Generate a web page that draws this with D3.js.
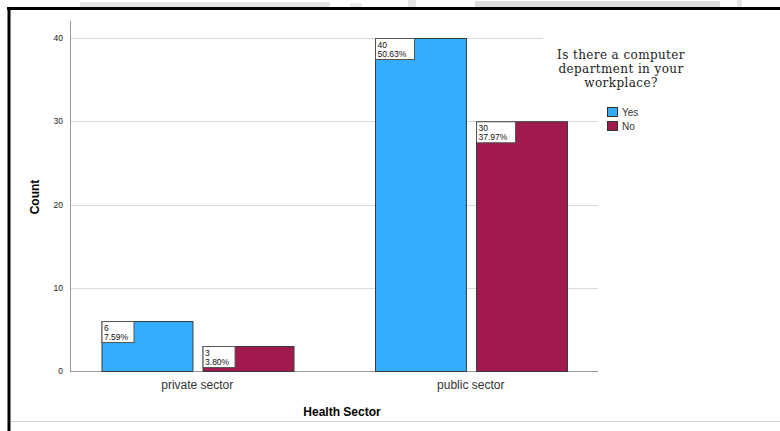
<!DOCTYPE html>
<html>
<head>
<meta charset="UTF-8" />
<title>Health Sector chart</title>
<script src="https://cdn.jsdelivr.net/npm/d3@7"></script>
<style>
    body { margin: 0; background: #fff; }
    svg { display: block; }
</style>
</head>
<body>
<div id="chart"></div>
<script type="text/javascript">
    /**
     * data
     */
    var categories = ["private sector", "public sector"];
    var seriesNames = ["Yes", "No"];
    var yesCounts = [6, 40];
    var noCounts = [3, 30];
    var yesPercents = ["7.59%", "50.63%"];
    var noPercents = ["3.80%", "37.97%"];
    var yTicks = [0, 10, 20, 30, 40];
    var colors = ["#33adfd", "#a01a4e"];

    var W = 780, H = 431;
    var svg = d3.select("#chart").append("svg").attr("width", W).attr("height", H);

    // scanned page remnants at the top
    [[80, 250, 5, "#e4e4e4"], [350, 12, 4, "#ececec"], [475, 245, 6, "#dedede"]].forEach(function (r) {
        svg.append("rect").attr("x", r[0]).attr("y", 7 - r[2]).attr("width", r[1]).attr("height", r[2]).attr("fill", r[3]);
    });
    [[408, 8], [737, 5]].forEach(function (r) {
        svg.append("rect").attr("x", r[0]).attr("y", 0).attr("width", r[1]).attr("height", 7).attr("fill", "#e6e6e6");
    });

    // frame
    svg.append("line").attr("x1", 7).attr("x2", W).attr("y1", 8.5).attr("y2", 8.5).attr("stroke", "#000").attr("stroke-width", 3);
    svg.append("line").attr("x1", 9).attr("x2", 9).attr("y1", 7).attr("y2", H).attr("stroke", "#000").attr("stroke-width", 3);
    svg.append("line").attr("x1", 11).attr("x2", W).attr("y1", 421.5).attr("y2", 421.5).attr("stroke", "#d0d0d0").attr("stroke-width", 1);

    var plotL = 70, plotR = 598;
    var y = d3.scaleLinear().domain([0, 40]).range([371, 38]);
    var x0 = d3.scaleBand().domain(categories).range([60.5, 607.5]);
    var x1 = d3.scaleBand().domain(seriesNames).range([41, 233]).paddingInner(0.1);

    // gridlines
    svg.append("g").selectAll("line").data(yTicks.filter(function (d) { return d > 0; })).enter().append("line")
        .attr("x1", plotL).attr("x2", plotR)
        .attr("y1", function (d) { return Math.round(y(d)) + 0.5; })
        .attr("y2", function (d) { return Math.round(y(d)) + 0.5; })
        .attr("stroke", "#d9d9d9").attr("stroke-width", 1);

    // y axis
    var yAxis = d3.axisLeft(y).tickValues(yTicks).tickSize(0).tickPadding(7);
    var gy = svg.append("g").attr("transform", "translate(" + plotL + ",0)").call(yAxis);
    gy.select(".domain").remove();
    gy.selectAll("text").attr("font-family", "Liberation Sans, Arial, sans-serif").attr("font-size", 8.5).attr("fill", "#222");
    svg.append("line").attr("x1", plotL + 0.5).attr("x2", plotL + 0.5).attr("y1", 21).attr("y2", 371)
        .attr("stroke", "#999");

    // x axis
    svg.append("line").attr("x1", plotL).attr("x2", plotR).attr("y1", 371.5).attr("y2", 371.5).attr("stroke", "#999");
    var xAxis = d3.axisBottom(x0).tickSize(0).tickPadding(9);
    var gx = svg.append("g").attr("transform", "translate(0,371)").call(xAxis);
    gx.select(".domain").remove();
    gx.selectAll("text").attr("font-family", "Liberation Sans, Arial, sans-serif").attr("font-size", 12).attr("fill", "#333");

    // bars
    var rows = categories.map(function (c, i) {
        return [
            { cat: c, s: "Yes", v: yesCounts[i], p: yesPercents[i], c: colors[0] },
            { cat: c, s: "No", v: noCounts[i], p: noPercents[i], c: colors[1] }
        ];
    });
    var groups = svg.append("g").selectAll("g").data(rows).enter().append("g")
        .attr("transform", function (d, i) { return "translate(" + x0(categories[i]) + ",0)"; });
    groups.selectAll("rect").data(function (d) { return d; }).enter().append("rect")
        .attr("x", function (d) { return x1(d.s) + 0.5; })
        .attr("y", function (d) { return y(d.v) + 0.5; })
        .attr("width", x1.bandwidth())
        .attr("height", function (d) { return y(0) - y(d.v); })
        .attr("fill", function (d) { return d.c; })
        .attr("stroke", "#3a3a3a").attr("stroke-width", 1);

    // value labels
    var lab = groups.selectAll("g.lab").data(function (d) { return d; }).enter().append("g").attr("class", "lab")
        .attr("transform", function (d) { return "translate(" + (x1(d.s) + 0.5) + "," + (y(d.v) + 0.5) + ")"; });
    lab.append("rect").attr("width", function (d) { return d.p.length > 5 ? 39 : 32; }).attr("height", 21)
        .attr("fill", "#fff").attr("stroke", "#555").attr("stroke-width", 1);
    lab.append("text").attr("x", 2).attr("y", 9.5).text(function (d) { return d.v; });
    lab.append("text").attr("x", 2).attr("y", 18).text(function (d) { return d.p; });
    lab.selectAll("text").attr("font-family", "Liberation Sans, Arial, sans-serif").attr("font-size", 8.5).attr("fill", "#111");

    // axis titles
    svg.append("text").attr("transform", "translate(39,197) rotate(-90)").attr("text-anchor", "middle")
        .attr("font-family", "Liberation Sans, Arial, sans-serif").attr("font-size", 12).attr("font-weight", "bold")
        .text("Count");
    svg.append("text").attr("x", 342).attr("y", 416).attr("text-anchor", "middle")
        .attr("font-family", "Liberation Sans, Arial, sans-serif").attr("font-size", 12).attr("font-weight", "bold")
        .text("Health Sector");

    // legend
    svg.append("rect").attr("x", 543).attr("y", 33).attr("width", 160).attr("height", 70).attr("fill", "#fff");
    var titleLines = ["Is there a computer", "department in your", "workplace?"];
    svg.append("g").selectAll("text").data(titleLines).enter().append("text")
        .attr("x", 621).attr("y", function (d, i) { return 59 + i * 14; })
        .attr("text-anchor", "middle")
        .attr("font-family", "DejaVu Serif, serif").attr("font-size", 12).attr("letter-spacing", 0.4)
        .attr("fill", "#222")
        .text(function (d) { return d; });
    var leg = svg.append("g").selectAll("g").data(seriesNames).enter().append("g")
        .attr("transform", function (d, i) { return "translate(607," + (107 + i * 14) + ")"; });
    leg.append("rect").attr("x", 0.5).attr("y", 0.5).attr("width", 10).attr("height", 9)
        .attr("fill", function (d, i) { return colors[i]; }).attr("stroke", "#333");
    leg.append("text").attr("x", 15).attr("y", 8.5).text(function (d) { return d; })
        .attr("font-family", "Liberation Sans, Arial, sans-serif").attr("font-size", 10).attr("fill", "#333");
</script>
</body>
</html>
